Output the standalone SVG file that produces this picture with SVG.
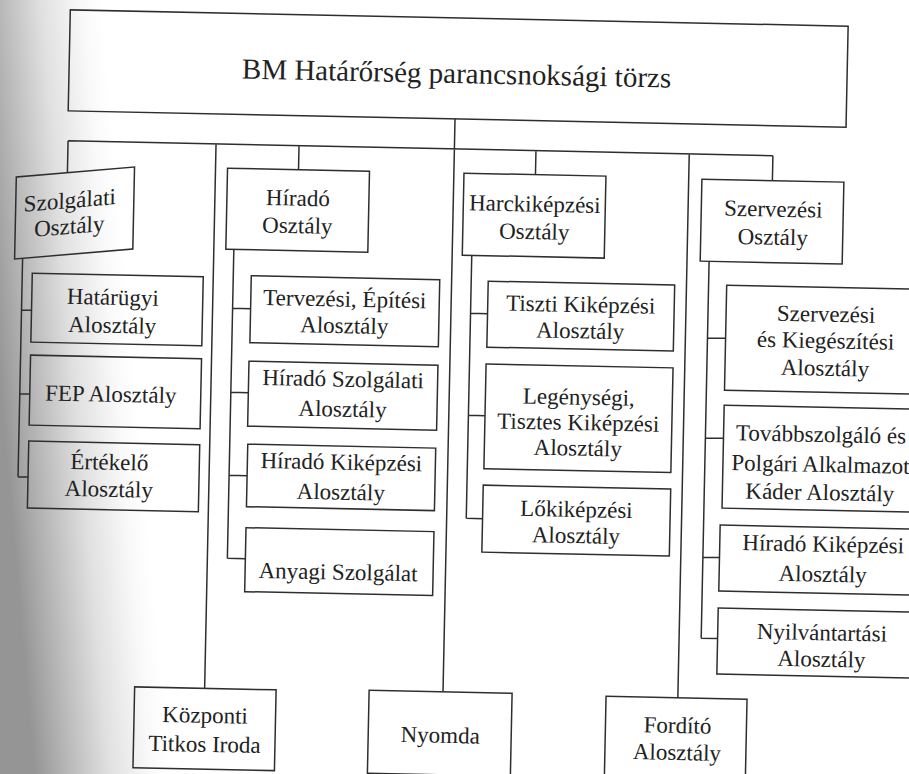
<svg xmlns="http://www.w3.org/2000/svg" width="909" height="774" viewBox="0 0 909 774">
<defs>
<linearGradient id="gutter" gradientUnits="userSpaceOnUse" x1="0" y1="387" x2="135" y2="375">
<stop offset="0" stop-color="#959595"/>
<stop offset="0.25" stop-color="#b8b8b8"/>
<stop offset="0.55" stop-color="#e0e0e0"/>
<stop offset="0.85" stop-color="#f9f9f9"/>
<stop offset="1" stop-color="#ffffff"/>
</linearGradient>
<style>
.box{fill:none;stroke:#2e2e2e;stroke-width:1.5}
.conn{fill:none;stroke:#2e2e2e;stroke-width:1.5}
.lbl{font-family:'Liberation Serif','DejaVu Serif',serif;font-size:23px;fill:#222;text-anchor:middle}
.title{font-size:29px}
</style>
</defs>
<rect width="909" height="774" fill="#ffffff"/>
<rect width="909" height="774" fill="url(#gutter)"/>
<g transform="rotate(1.2 454 387)">
<g id="connectors">
<path class="conn" d="M449.4 119V692 M63 149H768 M63 149V180.8 M211 149V693.5 M294 149V173 M531 149V173 M684.3 149V693 M768 149V174"/>
<path class="conn" d="M20 267.4V486 M20 319H30 M20 403H30 M20 486H30"/>
<path class="conn" d="M231 254V563 M231 313H249 M231 397H248.5 M231 480H249 M231 563H249"/>
<path class="conn" d="M469 255V518 M469 313H486 M469 415H485.6 M469 518H485.3"/>
<path class="conn" d="M706.4 256V633 M706.4 332.6H724.5 M706.4 432.6H724.5 M706.4 552H723 M706.4 633H722.8"/>
</g>
<g class="lbl" font-family="Liberation Serif, DejaVu Serif, serif">
<g id="torzs">
<rect class="box" x="62.5" y="18" width="778" height="101"/>
<text class="title" x="450" y="83">BM Határőrség parancsnoksági törzs</text>
</g>
<g id="szolgalati" transform="matrix(1 -0.1051 0 1 0 7.46)">
<rect class="box" x="12" y="180" width="118" height="82"/>
<text x="66" y="215.5">Szolgálati</text>
<text x="66" y="241.5">Osztály</text>
</g>
<g id="hatarugyi">
<rect class="box" x="30" y="282" width="171" height="69"/>
<text x="111" y="312">Határügyi</text>
<text x="111" y="340">Alosztály</text>
</g>
<g id="fep">
<rect class="box" x="30" y="364" width="171" height="70"/>
<text x="111" y="409">FEP Alosztály</text>
</g>
<g id="ertekelo">
<rect class="box" x="30" y="450" width="171" height="67"/>
<text x="111" y="477">Értékelő</text>
<text x="111" y="504">Alosztály</text>
</g>
<g id="hirado">
<rect class="box" x="223" y="173" width="142" height="81"/>
<text x="294" y="209">Híradó</text>
<text x="294" y="236.5">Osztály</text>
</g>
<g id="tervezesi">
<rect class="box" x="249" y="280" width="188.5" height="67"/>
<text x="343" y="309">Tervezési, Építési</text>
<text x="343" y="335.5">Alosztály</text>
</g>
<g id="hirado-szolgalati">
<rect class="box" x="248.5" y="365.5" width="189" height="65"/>
<text x="343" y="389">Híradó Szolgálati</text>
<text x="343" y="419">Alosztály</text>
</g>
<g id="hirado-kikepzesi-1">
<rect class="box" x="249" y="448.5" width="188" height="62.5"/>
<text x="343" y="472">Híradó Kiképzési</text>
<text x="343" y="502">Alosztály</text>
</g>
<g id="anyagi">
<rect class="box" x="249" y="532" width="188" height="64"/>
<text x="342" y="582">Anyagi Szolgálat</text>
</g>
<g id="harckikepzesi">
<rect class="box" x="459.5" y="173" width="142" height="82"/>
<text x="531" y="210">Harckiképzési</text>
<text x="531" y="237.5">Osztály</text>
</g>
<g id="tiszti">
<rect class="box" x="486" y="280.5" width="186.5" height="66"/>
<text x="579" y="309.5">Tiszti Kiképzési</text>
<text x="579" y="335.7">Alosztály</text>
</g>
<g id="legenysegi">
<rect class="box" x="485.6" y="363.3" width="187" height="104.7"/>
<text x="579" y="402">Legénységi,</text>
<text x="579" y="427.5">Tisztes Kiképzési</text>
<text x="579" y="453">Alosztály</text>
</g>
<g id="lokikepzesi">
<rect class="box" x="485.3" y="484.5" width="187.5" height="67"/>
<text x="579" y="514.4">Lőkiképzési</text>
<text x="579" y="540.5">Alosztály</text>
</g>
<g id="szervezesi">
<rect class="box" x="697.5" y="174" width="142" height="82"/>
<text x="769.5" y="210">Szervezési</text>
<text x="769.5" y="238">Osztály</text>
</g>
<g id="szervezesi-kiegeszitesi">
<rect class="box" x="724.5" y="279.5" width="230" height="105"/>
<text x="824.5" y="314">Szervezési</text>
<text x="824.5" y="340.5">és Kiegészítési</text>
<text x="824.5" y="368">Alosztály</text>
</g>
<g id="tovabbszolgalo">
<rect class="box" x="724.5" y="399.5" width="230" height="103"/>
<text x="822" y="434.3">Továbbszolgáló és</text>
<text x="822" y="464.3">Polgári Alkalmazot</text>
<text x="822" y="492.3">Káder Alosztály</text>
</g>
<g id="hirado-kikepzesi-2">
<rect class="box" x="723" y="519.5" width="230" height="66"/>
<text x="826.5" y="544">Híradó Kiképzési</text>
<text x="826.5" y="574">Alosztály</text>
</g>
<g id="nyilvantartasi">
<rect class="box" x="722.8" y="602.5" width="230" height="66"/>
<text x="827" y="632.5">Nyilvántartási</text>
<text x="827" y="659">Alosztály</text>
</g>
<g id="kozponti">
<rect class="box" x="141" y="693.5" width="141.5" height="80.8"/>
<text x="212" y="728">Központi</text>
<text x="212" y="757">Titkos Iroda</text>
</g>
<g id="nyomda">
<rect class="box" x="375.5" y="692" width="143" height="83"/>
<text x="447.5" y="743">Nyomda</text>
</g>
<g id="fordito">
<rect class="box" x="612.5" y="693" width="141" height="100"/>
<text x="684.5" y="728.3">Fordító</text>
<text x="684.5" y="755.3">Alosztály</text>
</g>
</g>
</g>
</svg>
